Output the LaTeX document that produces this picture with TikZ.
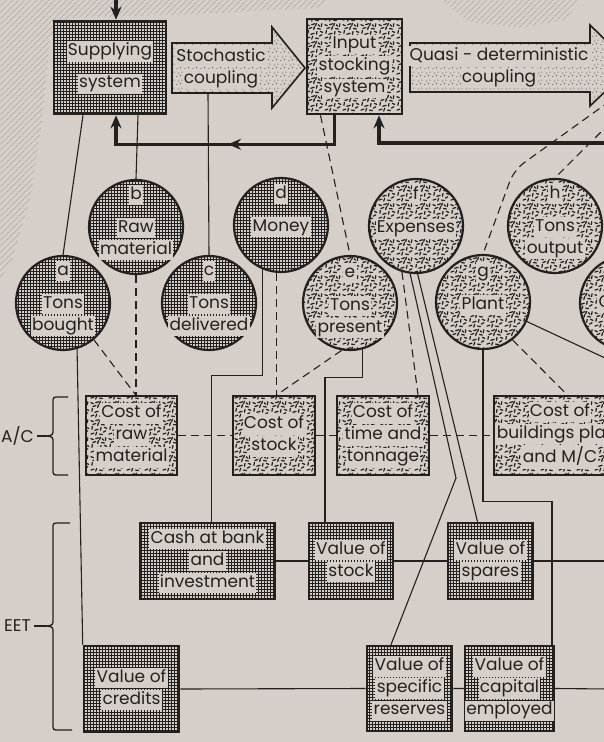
\documentclass[tikz,border=0pt]{standalone}
\usepackage{fontspec}
\setmainfont{Poppins}
\usetikzlibrary{patterns,patterns.meta,arrows.meta,decorations.markings}

\definecolor{paper}{RGB}{214,207,201}
\definecolor{ink}{RGB}{36,32,30}
\setlength{\fboxsep}{1.3pt}
\newcommand\kn[1]{\colorbox{paper}{\vphantom{lg}#1}}
\newcommand\spk[4]{\pgfpathmoveto{\pgfqpoint{#1pt}{#2pt}}\pgfpathlineto{\pgfqpoint{#3pt}{#4pt}}}

\pgfdeclarepatternformonly{finegrid}{\pgfqpoint{-0.5pt}{-0.5pt}}{\pgfqpoint{3.5pt}{3.5pt}}{\pgfqpoint{3pt}{3pt}}%
{\pgfsetlinewidth{0.95pt}%
 \spk{0}{0}{3.1}{0}\spk{0}{0}{0}{3.1}%
 \pgfusepath{stroke}}
\pgfdeclarepatternformonly{sparsedots}{\pgfpointorigin}{\pgfqpoint{8pt}{8pt}}{\pgfqpoint{8pt}{8pt}}%
{\pgfpathcircle{\pgfqpoint{1pt}{1.5pt}}{0.6pt}%
 \pgfpathcircle{\pgfqpoint{5pt}{2.5pt}}{0.6pt}%
 \pgfpathcircle{\pgfqpoint{3pt}{5.5pt}}{0.6pt}%
 \pgfpathcircle{\pgfqpoint{6.5pt}{6.5pt}}{0.6pt}%
 \pgfusepath{fill}}
\pgfdeclarepatternformonly{speckle}{\pgfpointorigin}{\pgfqpoint{18pt}{18pt}}{\pgfqpoint{18pt}{18pt}}%
{\pgfsetlinewidth{1.3pt}\pgfsetroundcap
 \spk{1}{2}{4}{3}\spk{6}{1}{7}{4}\spk{10}{2}{13}{1.5}\spk{14}{4}{16.5}{5.5}%
 \spk{2}{7}{2.5}{10}\spk{5}{6}{8.5}{7}\spk{11}{6}{11.5}{9}\spk{15}{9}{17.5}{8}%
 \spk{3}{12}{6}{13}\spk{8}{11}{9}{14}\spk{12}{12}{15}{11.5}\spk{16}{14}{16.5}{17}%
 \spk{1}{16}{3.5}{15}\spk{6}{16}{9}{17}\spk{10}{15}{11}{17.5}\spk{13}{16}{14}{14.5}%
 \pgfusepath{stroke}}

\begin{document}
\begin{tikzpicture}[x=1pt,y=-1pt,
  every node/.style={font=\fontsize{17}{22}\selectfont, text=ink},
  gridbox/.style={draw=ink, line width=2.6pt, preaction={fill=paper}, pattern=finegrid, pattern color=ink, inner sep=0pt, align=center},
  specbox/.style={gridbox, pattern=speckle},
  gridball/.style={circle, draw=ink, line width=2.2pt, minimum size=94pt, inner sep=0pt, preaction={fill=paper}, pattern=finegrid, pattern color=ink},
  specball/.style={gridball, pattern=speckle},
  balltxt/.style={anchor=north, inner sep=0pt, align=center},
  cpltxt/.style={inner sep=0pt, align=center},
  coupler/.style={draw=ink, line width=1.6pt, preaction={fill=paper}, pattern=sparsedots, pattern color=ink!80},
  feed/.style={draw=ink, line width=3.6pt},
  tipfeed/.style={-{Stealth[length=13pt,width=11pt]}},
  link/.style={draw=ink, line width=1.1pt},
  dlink/.style={link, dash pattern=on 8pt off 5pt},
  curly/.style={draw=ink, line width=1.3pt},
  hatch/.style={pattern={Lines[angle=45,distance=4pt,line width=0.6pt]}, pattern color=ink!30!paper}]
\useasboundingbox (0,0) rectangle (604,742);
\clip (0,0) rectangle (604,742);
\fill[paper] (0,0) rectangle (604,742);
% surroundings
\fill[hatch] (0,0) -- (330,0) -- (320,8) -- (200,14) -- (70,18) -- (50,40) -- (42,120) -- (30,200) -- (12,260) -- (0,280) -- cycle;
\fill[hatch] (440,0) -- (580,0) -- (565,20) -- (520,28) -- (470,22) -- cycle;

% physical system
\draw[coupler] (172,43) -- (272,43) -- (272,27) -- (305,68) -- (272,108) -- (272,93) -- (172,93) -- cycle;
\draw[coupler] (410,43) -- (590,43) -- (590,25) -- (632,66) -- (590,106) -- (590,92) -- (410,92) -- cycle;
\node[gridbox, minimum width=112pt, minimum height=93pt] (sup) at (110,67.5) {\kn{Supplying}\\[10pt]\kn{system}};
\node[specbox, minimum width=95pt, minimum height=95pt] (inp) at (354.5,66.5) {\kn{Input}\\\kn{stocking}\\\kn{system}};
\node[cpltxt] (stoch) at (221,68) {\kn{Stochastic}\\\kn{coupling}};
\node[cpltxt] (quasi) at (499,67) {\kn{Quasi - deterministic}\\\kn{coupling}};
\coordinate (stoch-b) at (208,93);
\coordinate (quasi-g) at (610,101);
\coordinate (quasi-bend) at (514,170);
\coordinate (quasi-h) at (610,123);
\coordinate (feed-in) at (116,0);
\coordinate (feed-r) at (610,143);

% variables
\node[gridball] (a) at (63,303) {};
\node[gridball] (b) at (136,227) {};
\node[gridball] (c) at (209,303) {};
\node[gridball] (d) at (281,225) {};
\node[specball] (e) at (350,303) {};
\node[specball] (f) at (416,226) {};
\node[specball] (g) at (483,302) {};
\node[specball] (h) at (555,226) {};
\node[specball] (i) at (627,303) {};
\node[balltxt] (a-t) at (63,261) {\kn{a}\\[11pt]\kn{Tons}\\\kn{bought}};
\node[balltxt] (b-t) at (136,185) {\kn{b}\\[11pt]\kn{Raw}\\\kn{material}};
\node[balltxt] (c-t) at (209,261) {\kn{c}\\[11pt]\kn{Tons}\\\kn{delivered}};
\node[balltxt] (d-t) at (281,184) {\kn{d}\\[11pt]\kn{Money}};
\node[balltxt] (e-t) at (350,263) {\kn{e}\\[11pt]\kn{Tons}\\\kn{present}};
\node[balltxt] (f-t) at (416,185) {\kn{f}\\[11pt]\kn{Expenses}};
\node[balltxt] (g-t) at (483,262) {\kn{g}\\[11pt]\kn{Plant}};
\node[balltxt] (h-t) at (555,184) {\kn{h}\\[11pt]\kn{Tons}\\\kn{output}};
\node[balltxt, anchor=west] (i-t) at (597,303) {\kn{C}};

% accounts
\node[specbox, minimum width=91pt, minimum height=79pt] (craw) at (131.5,435.5) {\kn{Cost of}\\\kn{raw}\\\kn{material}};
\node[specbox, minimum width=82pt, minimum height=79pt] (cstock) at (274,435.5) {\kn{Cost of}\\\kn{stock}};
\node[specbox, minimum width=92pt, minimum height=79pt] (ctime) at (383,435.5) {\kn{Cost of}\\\kn{time and}\\\kn{tonnage}};
\node[specbox, minimum width=132pt, minimum height=79pt] (cbuild) at (560,435.5) {\kn{Cost of}\\\kn{buildings plant}\\\kn{and M/C}};
\node[gridbox, minimum width=135pt, minimum height=76pt] (cash) at (207.5,561) {\kn{Cash at bank}\\\kn{and}\\\kn{investment}};
\node[gridbox, minimum width=84pt, minimum height=76pt] (vstock) at (351,561) {\kn{Value of}\\\kn{stock}};
\node[gridbox, minimum width=85pt, minimum height=76pt] (vspare) at (490.5,561) {\kn{Value of}\\\kn{spares}};
\node[gridbox, minimum width=95pt, minimum height=86pt] (vcred) at (131.5,689) {\kn{Value of}\\\kn{credits}};
\node[gridbox, minimum width=85pt, minimum height=85pt] (vres) at (409.5,688.5) {\kn{Value of}\\\kn{specific}\\\kn{reserves}};
\node[gridbox, minimum width=87pt, minimum height=85pt] (vcap) at (509.5,688.5) {\kn{Value of}\\\kn{capital}\\\kn{employed}};
\coordinate (f-kink) at (456,478);
\coordinate (g-out) at (620,365);
\coordinate (bs-r1) at (610,561);
\coordinate (bs-r2) at (610,689);

% braces
\coordinate (ac-tip) at (47,436);
\coordinate (bs-tip) at (47,626);
\node[anchor=east, inner sep=3pt] (ac) at (37,436) {A/C};
\node[anchor=east, inner sep=3pt] (bs) at (34,626) {EET};
\draw[curly] (68,397) -- (59,397) .. controls (53,397) .. (53,403) -- (53,429) .. controls (53,435) .. (ac-tip) .. controls (53,437) .. (53,443) -- (53,469) .. controls (53,475) .. (59,475) -- (68,475);
\draw[curly] (70,523) -- (59,523) .. controls (53,523) .. (53,529) -- (53,619) .. controls (53,625) .. (bs-tip) .. controls (53,627) .. (53,633) -- (53,724) .. controls (53,730) .. (59,730) -- (72,730);
\draw[link] (ac-tip) -- (ac.east);
\draw[link] (bs-tip) -- (bs.east);

% feedback
\draw[feed, tipfeed] (feed-in) -- (feed-in |- sup.north);
\draw[feed, tipfeed] (feed-r) -| ([xshift=24.5pt]inp.south);
\draw[feed, tipfeed, postaction={decorate}, decoration={markings, mark=at position 0.49 with {\arrow{Stealth[length=13pt,width=11pt]}}}] ([xshift=-20pt]inp.south) -- ++(0,29) -| ([xshift=6pt]sup.south);

% links
\draw[link] ([xshift=-27pt]sup.south) -- (a.north);
\draw[link] ([xshift=28pt]sup.south) -- (b.north);
\draw[link] (stoch-b) -- (c.north);
\draw[dlink] ([xshift=-34pt]inp.south) -- (e.north);
\draw[dlink, rounded corners=12pt] (quasi-g) -- (quasi-bend) -- (g.north);
\draw[dlink] (quasi-h) -- (h.north);
\draw[link] (a.-73) -- (vcred.north west);
\draw[dlink] (a.-50) -- ([xshift=4pt]craw.north);
\draw[dlink] (b.south) -- (b.south |- craw.north);
\draw[link] (d.-113) -- ++(0,106) -| ([xshift=4pt]cash.north);
\draw[dlink] (d.-95) -- (d.-95 |- cstock.north);
\draw[dlink] (e.-100) -- ([xshift=3pt]cstock.north);
\draw[link] (e.-75) -- ++(0,28) -| ([xshift=-26pt]vstock.north);
\draw[dlink] (f.-107) -- ([xshift=35pt]ctime.north);
\draw[link] (f.-97) -- (f-kink) -- ([xshift=-18.5pt]vres.north);
\draw[link] (f.-88) -- ([xshift=-13pt]vspare.north);
\draw[link] (g.south) -- ++(0,151) -| ([xshift=42.5pt]vcap.north);
\draw[dlink] (g.-52) -- ([xshift=7pt]cbuild.north);
\draw[link] (g.-24) -- (g-out);
\draw[dlink] (craw.east) -- (cstock.west) (cstock.east) -- (ctime.west) (ctime.east) -- (cbuild.west);
\draw[link] (cash.east) -- (vstock.west) (vstock.east) -- (vspare.west) (vspare.east) -- (bs-r1);
\draw[link] (vcred.east) -- (vres.west) (vres.east) -- (vcap.west) (vcap.east) -- (bs-r2);
\end{tikzpicture}
\end{document}
